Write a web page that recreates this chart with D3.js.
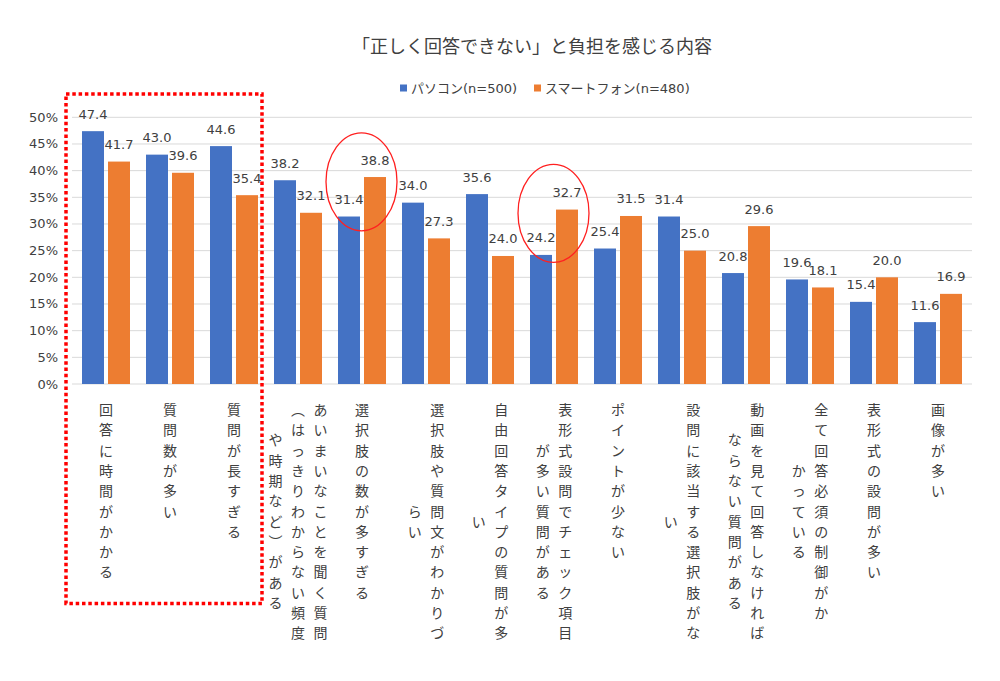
<!DOCTYPE html>
<html><head><meta charset="utf-8">
<script src="https://cdn.jsdelivr.net/npm/d3@7"></script>
<style>
html,body{margin:0;padding:0;background:#fff;}
svg{display:block;}
.jp{font-family:"DejaVu Sans","Noto Sans CJK JP",sans-serif;}
</style></head>
<body>
<svg id="chart" width="1000" height="681"></svg>
<script>
const title = "「正しく回答できない」と負担を感じる内容";
const seriesNames = ["パソコン(n=500)", "スマートフォン(n=480)"];
const seriesColors = ["#4472C4", "#ED7D31"];
const categories = [
  ["回答に時間がかかる"],
  ["質問数が多い"],
  ["質問が長すぎる"],
  ["あいまいなことを聞く質問", "（はっきりわからない頻度", "や時期など）がある"],
  ["選択肢の数が多すぎる"],
  ["選択肢や質問文がわかりづ", "らい"],
  ["自由回答タイプの質問が多", "い"],
  ["表形式設問でチェック項目", "が多い質問がある"],
  ["ポイントが少ない"],
  ["設問に該当する選択肢がな", "い"],
  ["動画を見て回答しなければ", "ならない質問がある"],
  ["全て回答必須の制御がか", "かっている"],
  ["表形式の設問が多い"],
  ["画像が多い"]
];
const pcValues = [47.4, 43.0, 44.6, 38.2, 31.4, 34.0, 35.6, 24.2, 25.4, 31.4, 20.8, 19.6, 15.4, 11.6];
const spValues = [41.7, 39.6, 35.4, 32.1, 38.8, 27.3, 24.0, 32.7, 31.5, 25.0, 29.6, 18.1, 20.0, 16.9];
const yTicks = [0, 5, 10, 15, 20, 25, 30, 35, 40, 45, 50];
// annotation ellipses: category index and value at centre
const circled = [{cat: 4, v: 37.9}, {cat: 7, v: 32.0}];
// highlighted category range (dotted box)
const boxedCats = [0, 2];

const svg = d3.select("#chart");
const textColor = "#404040";

const x = d3.scaleBand().domain(d3.range(categories.length)).range([74, 970]).padding(0);
const xs = d3.scaleBand().domain([0, 1]).range([8, 56]).paddingInner(4 / 26);
const y = d3.scaleLinear().domain([0, 50]).range([384, 117.3]);

// gridlines
svg.append("g").selectAll("line").data(yTicks).join("line")
  .attr("x1", 72).attr("x2", 972)
  .attr("y1", d => y(d)).attr("y2", d => y(d))
  .attr("stroke", "#d9d9d9").attr("stroke-width", 1);

// y axis labels
svg.append("g").selectAll("text").data(yTicks).join("text")
  .attr("class", "jp")
  .attr("x", 58).attr("y", d => y(d))
  .attr("text-anchor", "end").attr("dominant-baseline", "central")
  .attr("font-size", 13).attr("fill", textColor)
  .text(d => d + "%");

// bars
const series = [pcValues, spValues];
series.forEach((vals, si) => {
  const g = svg.append("g");
  g.selectAll("rect").data(vals).join("rect")
    .attr("x", (d, i) => x(i) + xs(si))
    .attr("width", xs.bandwidth())
    .attr("y", d => y(d))
    .attr("height", d => y(0) - y(d))
    .attr("fill", seriesColors[si]);
  g.selectAll("text").data(vals).join("text")
    .attr("class", "jp")
    .attr("x", (d, i) => x(i) + xs(si) + xs.bandwidth() / 2)
    .attr("y", d => y(d) - 17)
    .attr("text-anchor", "middle").attr("dominant-baseline", "central")
    .attr("font-size", 13).attr("fill", textColor)
    .text(d => d.toFixed(1));
});

// category labels (vertical text, columns right to left)
const colGap = 22.5, pitch = 20.3, fs = 14, labelTop = 402;
categories.forEach((cols, i) => {
  const cx = x(i) + x.bandwidth() / 2;
  const n = cols.length;
  const lenMax = cols[0].length;
  cols.forEach((line, j) => {
    const colX = cx + ((n - 1) / 2 - j) * colGap;
    const yStart = labelTop + (lenMax - line.length) * pitch / 2;
    const t = svg.append("text")
      .attr("font-family", "Noto Sans CJK JP")
      .attr("font-size", fs).attr("fill", textColor);
    t.selectAll("tspan").data(Array.from(line)).join("tspan")
      .attr("x", colX)
      .attr("y", (c, k) => yStart + k * pitch + fs / 2)
      .attr("text-anchor", "middle").attr("dominant-baseline", "central")
      .text(c => c === "（" ? "︵" : c === "）" ? "︶" : c);
  });
});

// title
svg.append("text").attr("font-family", "Noto Sans CJK JP")
  .attr("x", 532).attr("y", 45).attr("text-anchor", "middle").attr("dominant-baseline", "central")
  .attr("font-size", 18).attr("fill", textColor).text(title);

// legend
const legX = [400, 534];
seriesNames.forEach((name, i) => {
  svg.append("rect").attr("x", legX[i]).attr("y", 84.5).attr("width", 7).attr("height", 7).attr("fill", seriesColors[i]);
  svg.append("text").attr("class", "jp").attr("x", legX[i] + 11).attr("y", 88)
    .attr("dominant-baseline", "central").attr("font-size", 13).attr("fill", textColor).text(name);
});

// annotations
const boxLeft = x(boxedCats[0]) - 8;
const boxRight = x(boxedCats[1]) + x.bandwidth() - 4;
svg.append("rect")
  .attr("x", boxLeft).attr("y", 94)
  .attr("width", boxRight - boxLeft)
  .attr("height", 509.5)
  .attr("fill", "none").attr("stroke", "#ff0000").attr("stroke-width", 3.5)
  .attr("stroke-dasharray", "3.5 2.8");
svg.append("g").selectAll("ellipse").data(circled).join("ellipse")
  .attr("cx", d => x(d.cat) + x.bandwidth() / 2 - 0.5)
  .attr("cy", d => y(d.v))
  .attr("rx", 35.5).attr("ry", 49)
  .attr("fill", "none").attr("stroke", "#ff2020").attr("stroke-width", 1.3);
</script>
</body></html>
